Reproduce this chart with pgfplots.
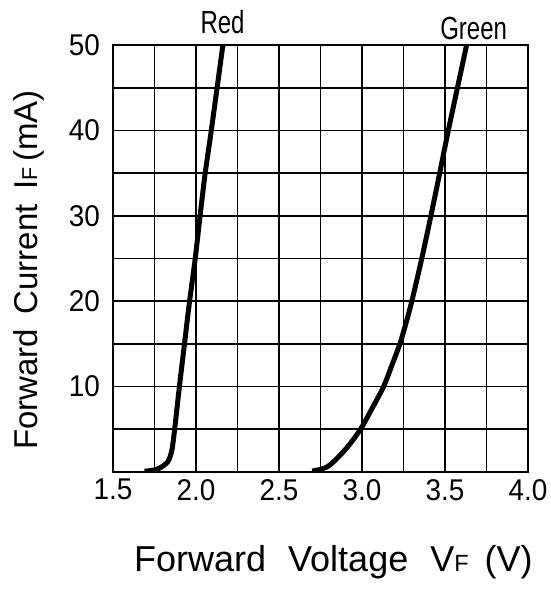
\documentclass[border=0pt]{standalone}
\usepackage{fontspec}
\setmainfont{Liberation Sans}
\newfontfamily\condfont[FakeStretch=0.75]{Liberation Sans}
\newfontfamily\tickfont[FakeStretch=0.93]{Liberation Sans}
\usepackage{graphicx}
\usepackage{pgfplots}
\pgfplotsset{compat=1.18}
\begin{document}
\begin{tikzpicture}
\begin{axis}[
  scale only axis, width=207.5pt, height=213.5pt,
  xmin=1.5, xmax=4.0, ymin=0, ymax=50,
  xtick={1.5,2,2.5,3,3.5,4},
  xticklabels={1.5,2.0,2.5,3.0,3.5,4.0},
  minor xtick={1.75,2.25,2.75,3.25,3.75},
  ytick={10,20,30,40,50},
  yticklabels={10,20,30,40,50},
  minor ytick={5,15,25,35,45},
  grid=both,
  major grid style={black, line width=0.85pt},
  minor grid style={black, line width=0.85pt},
  major tick length=0pt, minor tick length=0pt,
  axis line style={black, line width=1pt},
  /pgf/number format/assume math mode=true,
  ticklabel style={font=\tickfont\fontsize{15}{17}\selectfont},
  yticklabel style={xshift=-3pt},
  clip mode=individual,
]
\addplot[black, line width=2.5pt, smooth, tension=0.5, line join=round] coordinates {
  (1.69,0.1) (1.74,0.2) (1.78,0.45) (1.83,1.2) (1.855,2.6) (1.873,5.3)
  (1.90,10) (1.93,14.9) (1.96,19.8) (1.994,24.8) (2.024,29.9) (2.054,34.8)
  (2.09,39.7) (2.125,44.7) (2.162,50)
};
\addplot[black, line width=2.5pt, smooth, tension=0.5, line join=round] coordinates {
  (2.70,0.1) (2.79,0.6) (2.87,2.0) (2.94,3.6) (3.0,5.3) (3.065,7.6)
  (3.13,10) (3.18,12.5) (3.228,15) (3.266,17.5) (3.30,20) (3.36,25) (3.415,30)
  (3.468,35) (3.52,40) (3.575,45) (3.63,50)
};
\node[anchor=base, font=\condfont\fontsize{16}{19}\selectfont] at (rel axis cs:0.264,1.028) {Red};
\node[anchor=base, font=\condfont\fontsize{16}{19}\selectfont] at (rel axis cs:0.869,1.0117) {Green};
\node[anchor=base, font=\fontsize{18}{22}\selectfont] at (rel axis cs:0.531,-0.234) {Forward\,\, Voltage\,\, V\scalebox{0.65}{F}\, (V)};
\node[anchor=base, rotate=90, font=\fontsize{16.5}{20}\selectfont] at (rel axis cs:-0.183,0.473) {Forward\, Current\, I\scalebox{0.65}{F}\,(mA)};
\coordinate (BL) at (rel axis cs:-0.2723,-0.274);
\coordinate (TR) at (rel axis cs:1.0554,1.1054);
\end{axis}
\pgfresetboundingbox
\path[use as bounding box] (BL) rectangle (TR);
\end{tikzpicture}
\end{document}
